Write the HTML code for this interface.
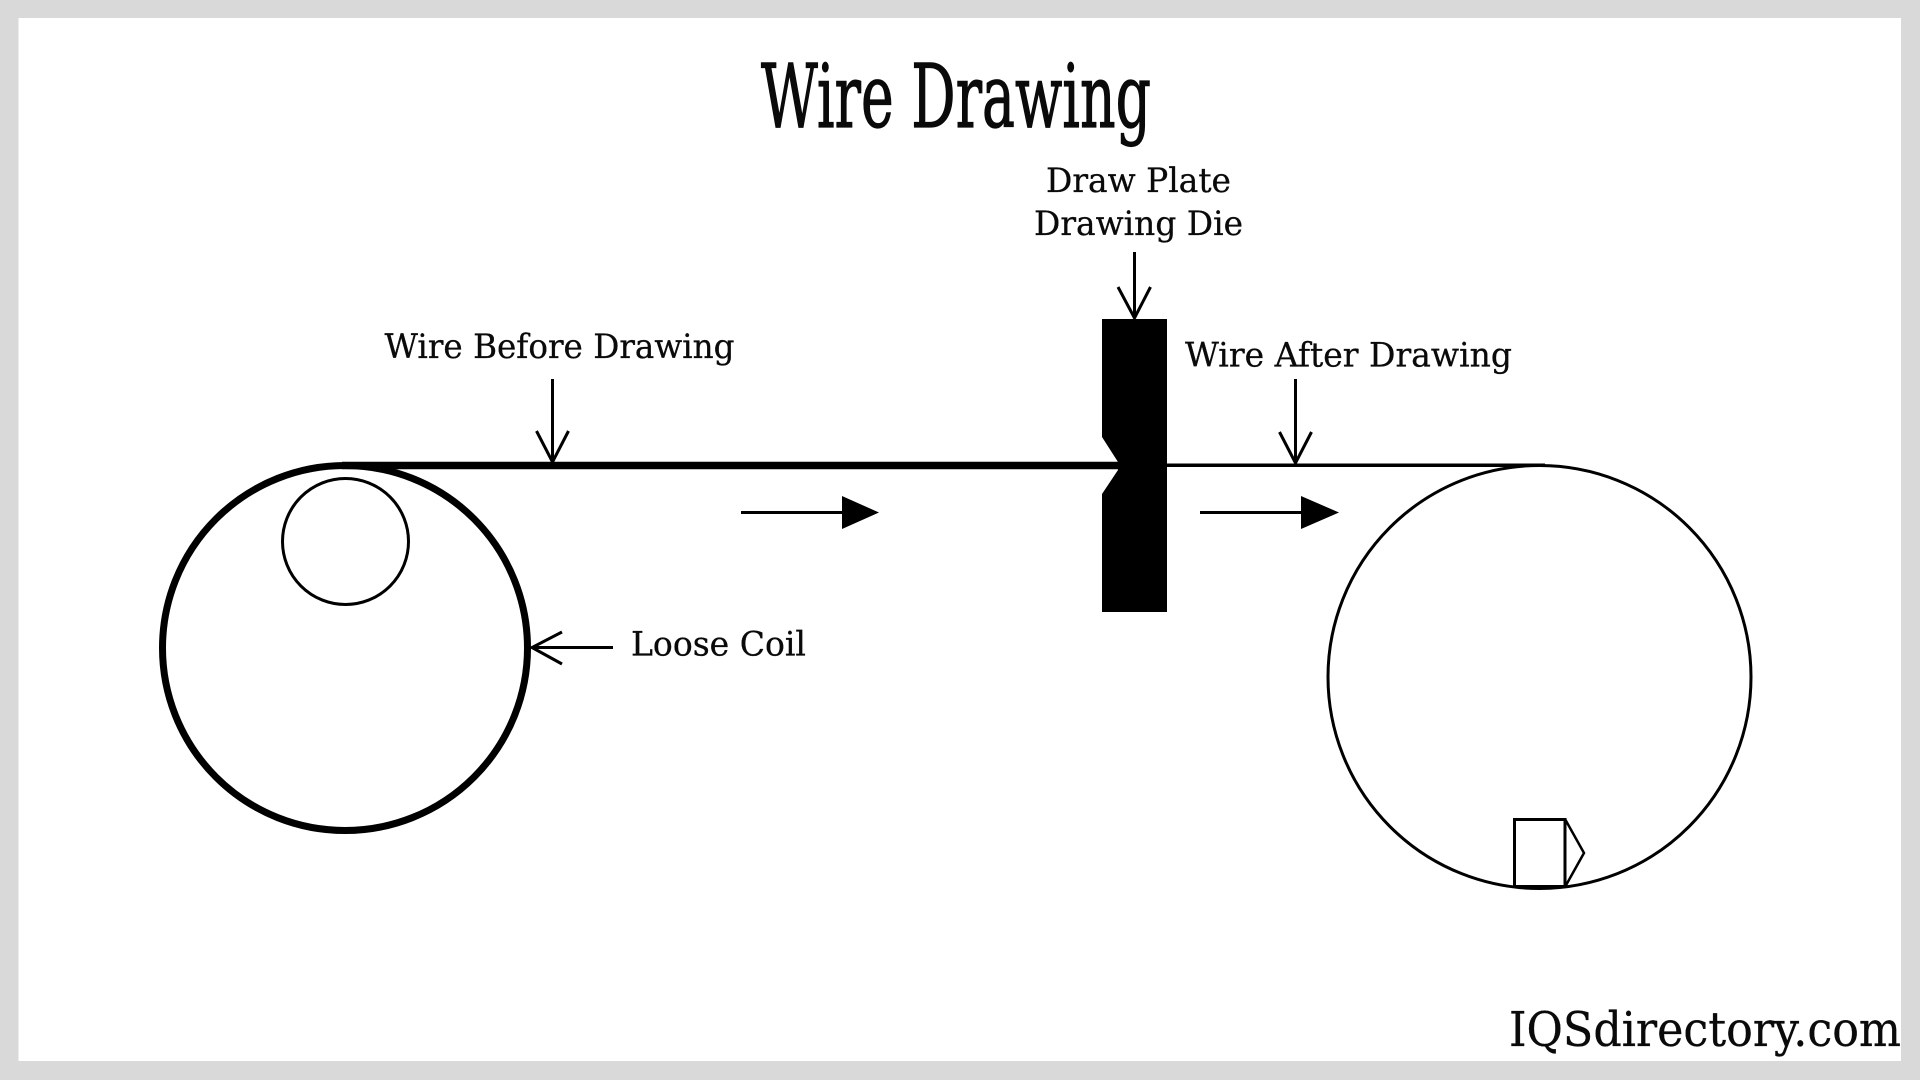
<!DOCTYPE html>
<html lang="en">
<head>
<meta charset="utf-8">
<title>Wire Drawing</title>
<style>
html,body{margin:0;padding:0;width:1920px;height:1080px;overflow:hidden;background:#d9d9d9}
svg{display:block}
text{font-family:"DejaVu Serif","Liberation Serif",serif;fill:#0a0a0a}
</style>
</head>
<body>
<svg xmlns="http://www.w3.org/2000/svg" width="1920" height="1080" viewBox="0 0 1920 1080">
<rect width="1920" height="1080" fill="#d9d9d9"/>
<rect x="18.5" y="18" width="1882.5" height="1043" fill="#fff"/>

<text x="761" y="127" font-size="88" textLength="390" lengthAdjust="spacingAndGlyphs" stroke="#0a0a0a" stroke-width="1.2">Wire Drawing</text>
<g stroke="#0a0a0a" stroke-width="0.3">
<text x="1046" y="192" font-size="34" textLength="185" lengthAdjust="spacingAndGlyphs">Draw Plate</text>
<text x="1034" y="235" font-size="34" textLength="209" lengthAdjust="spacingAndGlyphs">Drawing Die</text>
<text x="1185" y="366.5" font-size="34" textLength="327" lengthAdjust="spacingAndGlyphs">Wire After Drawing</text>
<text x="384.5" y="358" font-size="34" textLength="350" lengthAdjust="spacingAndGlyphs">Wire Before Drawing</text>
<text x="631" y="655.5" font-size="34" textLength="175" lengthAdjust="spacingAndGlyphs">Loose Coil</text>
<text x="1509" y="1046" font-size="48" textLength="392" lengthAdjust="spacingAndGlyphs">IQSdirectory.com</text>
</g>

<!-- coil -->
<circle cx="345" cy="648" r="182.5" fill="none" stroke="#000" stroke-width="7"/>
<circle cx="345.5" cy="541.5" r="63" fill="none" stroke="#000" stroke-width="3"/>
<!-- wires -->
<line x1="342" y1="465.5" x2="1120" y2="465.5" stroke="#000" stroke-width="7.5"/>
<line x1="1160" y1="465.3" x2="1545" y2="465.3" stroke="#000" stroke-width="3.5"/>
<!-- spool -->
<circle cx="1539.5" cy="677" r="211.5" fill="none" stroke="#000" stroke-width="3"/>
<rect x="1514.5" y="819.5" width="50.5" height="67" fill="none" stroke="#000" stroke-width="3"/>
<polyline points="1565,819 1584,853 1565,887" fill="none" stroke="#000" stroke-width="2.5"/>
<!-- die -->
<polygon points="1102,319 1167,319 1167,612 1102,612 1102,494 1118,470 1118,462 1102,437" fill="#000"/>
<!-- label arrows -->
<g fill="none" stroke="#000" stroke-width="3">
<path d="M1134.5 252V318"/><path d="M1118 287L1134.5 318L1150.5 287"/>
<path d="M1295.5 379V463"/><path d="M1279.5 432L1295.5 463L1311.5 432"/>
<path d="M552.5 379V462"/><path d="M536.5 431L552.5 462L568.5 431"/>
<path d="M532 647.5H613"/><path d="M562 632L532 647.5L562 664"/>
</g>
<!-- direction arrows -->
<line x1="741" y1="512.5" x2="845" y2="512.5" stroke="#000" stroke-width="3"/>
<polygon points="842,496 879,512.5 842,529" fill="#000"/>
<line x1="1200" y1="512.5" x2="1304" y2="512.5" stroke="#000" stroke-width="3"/>
<polygon points="1301,496 1339,512.5 1301,529" fill="#000"/>
</svg>
</body>
</html>
